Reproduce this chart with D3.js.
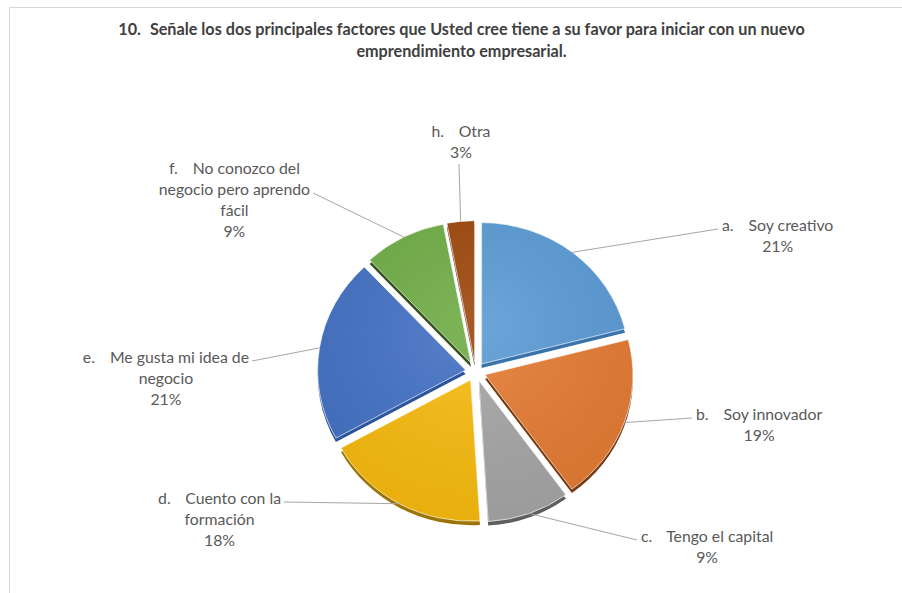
<!DOCTYPE html>
<html>
<head>
<meta charset="utf-8">
<script src="https://cdn.jsdelivr.net/npm/d3@7"></script>
<style>
  html, body { margin: 0; padding: 0; background: #ffffff; }
  svg { display: block; }
  text { font-family: Lato, "Open Sans", "DejaVu Sans", sans-serif; }
</style>
</head>
<body>
<svg id="chart" width="902" height="593"></svg>
<script>
// ---------- data ----------
const titleNumber = "10.";
const titleLines = [
  "Señale los dos principales factores que Usted cree tiene a su favor para iniciar con un nuevo",
  "emprendimiento empresarial."
];
const letters = ["a.", "b.", "c.", "d.", "e.", "f.", "h."];
const labelLines = [
  ["Soy creativo"],
  ["Soy innovador"],
  ["Tengo el capital"],
  ["Cuento con la", "formación"],
  ["Me gusta mi idea de", "negocio"],
  ["No conozco del", "negocio pero aprendo", "fácil"],
  ["Otra"]
];
const values = [21, 19, 9, 18, 21, 9, 3];
const percentLabels = ["21%", "19%", "9%", "18%", "21%", "9%", "3%"];

// ---------- styles / layout ----------
const topColors   = ["#5B9BD5", "#E47B34", "#A5A5A5", "#F7BA0F", "#4472C4", "#70AD47", "#9E480E"];
const depthColors = ["#3A73AC", "#7A3A0E", "#5E5E5E", "#9C7405", "#2C559E", "#33521E", "#5A2806"];
// leader-line end points near the label text and which side the text sits on
const labelLayout = [
  { x: 718, y: 229, side: "right", row: 0 },
  { x: 692, y: 418, side: "right", row: 0 },
  { x: 637, y: 540, side: "right", row: 0 },
  { x: 284, y: 502, side: "left",  row: 0 },
  { x: 252, y: 361, side: "left",  row: 0 },
  { x: 313, y: 193, side: "left",  row: 1 },
  { x: 459, y: 164, side: "top",   row: 0 }
];
const cx = 475.5, cy = 371.5, R = 148, explode = 10, tilt = 0.955, depth = 4;
const lineH = 21;
const labelColor = "#595959";
const labelSize = 15.8;
const leadGap = 15;

const svg = d3.select("#chart");

// chart border
svg.append("line").attr("x1", 9).attr("x2", 902).attr("y1", 7.5).attr("y2", 7.5)
  .attr("stroke", "#d9d9d9").attr("stroke-width", 1);
svg.append("line").attr("x1", 9.5).attr("x2", 9.5).attr("y1", 7).attr("y2", 593)
  .attr("stroke", "#d9d9d9").attr("stroke-width", 1);

// title
const title = svg.append("text")
  .attr("text-anchor", "middle")
  .attr("fill", "#404040")
  .attr("font-size", 16.2)
  .attr("font-weight", 700);
const t1 = title.append("tspan").attr("x", 461.5).attr("y", 35);
t1.append("tspan").text(titleNumber);
t1.append("tspan").attr("dx", 9).text(titleLines[0]);
title.append("tspan").attr("x", 461.5).attr("y", 35 + 21.5).text(titleLines[1]);

// pie
const pie = d3.pie().sort(null).value(d => d)(values);
const arc = d3.arc().innerRadius(0).outerRadius(R);
const mid = d => (d.startAngle + d.endAngle) / 2;
const off = d => [explode * Math.sin(mid(d)), -explode * Math.cos(mid(d))];

const gDepth = svg.append("g").attr("transform", `translate(${cx},${cy + depth}) scale(1,${tilt})`);
gDepth.selectAll("path").data(pie).join("path")
  .attr("d", arc)
  .attr("transform", d => `translate(${off(d)[0]},${off(d)[1]})`)
  .attr("fill", (d, i) => depthColors[i]);

const defs = svg.append("defs");
const grad = defs.append("radialGradient").attr("id", "shine")
  .attr("gradientUnits", "userSpaceOnUse").attr("cx", 0).attr("cy", -40).attr("r", 200);
grad.append("stop").attr("offset", "0%").attr("stop-color", "#fff").attr("stop-opacity", 0.10);
grad.append("stop").attr("offset", "100%").attr("stop-color", "#000").attr("stop-opacity", 0.06);

const gTop = svg.append("g").attr("transform", `translate(${cx},${cy}) scale(1,${tilt})`);
const slices = gTop.selectAll("g.slice").data(pie).join("g")
  .attr("class", "slice")
  .attr("transform", d => `translate(${off(d)[0]},${off(d)[1]})`);
slices.append("path").attr("d", arc).attr("fill", (d, i) => topColors[i]);
slices.append("path").attr("d", arc).attr("fill", "url(#shine)")
  .attr("stroke", "#ffffff").attr("stroke-opacity", 0.75).attr("stroke-width", 0.9);

// labels + leader lines
const gLab = svg.append("g");
function fillRow(sel, r) {
  if (r.lead) {
    sel.append("tspan").text(r.lead);
    sel.append("tspan").attr("dx", leadGap).text(r.text);
  } else {
    sel.text(r.text);
  }
}
pie.forEach((d, i) => {
  const L = labelLayout[i];
  const a = mid(d);
  const sx = cx + (explode + R) * Math.sin(a);
  const sy = cy - tilt * (explode + R) * Math.cos(a);
  gLab.append("line")
    .attr("x1", sx).attr("y1", sy).attr("x2", L.x).attr("y2", L.y)
    .attr("stroke", "#a6a6a6").attr("stroke-width", 1);

  const rows = labelLines[i].map((t, k) => ({ lead: k === 0 ? letters[i] : null, text: t }));
  rows.push({ lead: null, text: percentLabels[i] });

  const meas = gLab.append("text").attr("font-size", labelSize).attr("visibility", "hidden");
  const widths = rows.map(r => {
    meas.selectAll("*").remove();
    meas.text(null);
    fillRow(meas, r);
    return meas.node().getComputedTextLength() + (r.lead ? leadGap : 0);
  });
  meas.remove();

  let centerX, baseY;
  if (L.side === "right") {
    centerX = L.x + 4 + widths[L.row] / 2;
    baseY = L.y + 2 - L.row * lineH;
  } else if (L.side === "left") {
    centerX = L.x - 3 - widths[L.row] / 2;
    baseY = L.y + 2 - L.row * lineH;
  } else {
    centerX = L.x + 2;
    baseY = L.y - 6 - (rows.length - 1) * lineH;
  }
  rows.forEach((r, k) => {
    const tx = gLab.append("text")
      .attr("fill", labelColor).attr("font-size", labelSize)
      .attr("text-anchor", "middle")
      .attr("x", centerX).attr("y", baseY + k * lineH);
    fillRow(tx, r);
  });
});
</script>
</body>
</html>
